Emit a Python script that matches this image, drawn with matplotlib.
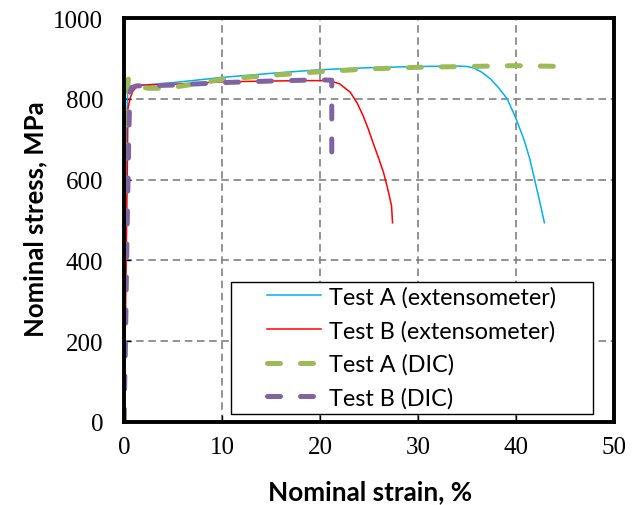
import numpy as np
import matplotlib
matplotlib.use('Agg')
import matplotlib.pyplot as plt
from matplotlib.patches import Rectangle

# ── data (strain %, stress MPa) ──
strain_a_ext = [0, 0.15, 0.3, 0.4, 0.6, 1.0, 2, 5, 10, 15, 20, 25, 30, 34,
                35.0, 35.7, 36.5, 37.4, 38.2, 39.1, 39.9, 40.8, 41.4, 41.9, 42.4, 42.9]
stress_a_ext = [0, 400, 760, 836, 832, 832, 834, 840, 853, 863, 872, 877, 880, 881,
                880, 876, 866, 849, 828, 800, 757, 700, 652, 600, 548, 493]

strain_b_ext = [0, 0.2, 0.35, 0.4, 0.6, 0.9, 1.4, 2, 5, 10, 15, 18, 20, 21.0,
                22.0, 23.1, 23.8, 24.4, 24.9, 25.4, 26.0, 26.5, 27.0, 27.3, 27.4]
stress_b_ext = [0, 350, 650, 775, 800, 819, 832, 834, 836, 842, 844, 845, 845, 845,
                837, 816, 789, 758, 727, 692, 652, 616, 568, 535, 493]

strain_a_dic = [0, 0.1, 0.2, 0.3, 0.45, 0.8, 1.4, 2.5, 4, 6, 10, 15, 20, 25, 30, 35, 40, 45]
stress_a_dic = [0, 250, 550, 800, 849, 843, 830, 826, 826, 832, 848, 858, 867, 874, 878, 880, 882, 880]

strain_b_dic = [0, 0.15, 0.3, 0.5, 0.6, 0.8, 1.3, 2, 5, 10, 15, 20, 21.2, 21.2]
stress_b_dic = [0, 200, 450, 720, 817, 828, 832, 832, 834, 840, 844, 847, 846, 626]

labels = ['Test A (extensometer)', 'Test B (extensometer)', 'Test A (DIC)', 'Test B (DIC)']
x_ticks = [0, 10, 20, 30, 40, 50]
y_ticks = [0, 200, 400, 600, 800, 1000]

BLUE, RED, GREEN, PURPLE = '#00B0F0', '#FF0000', '#9BBB59', '#8064A2'

fig = plt.figure(figsize=(6.4, 5.06), dpi=100)
ax = fig.add_axes([124/640, 83/506, 490/640, 404/506])

ax.plot(strain_a_ext, stress_a_ext, color=BLUE, lw=1.1, label=labels[0], zorder=3)
ax.plot(strain_b_ext, stress_b_ext, color=RED, lw=1.1, label=labels[1], zorder=3)
dash = dict(lw=3.6, dashes=(2.6, 4.0), dash_capstyle='round', zorder=4)
ax.plot(strain_a_dic, stress_a_dic, color=GREEN, label=labels[2], **dash)
ax.plot(strain_b_dic, stress_b_dic, color=PURPLE, label=labels[3], **dash)

ax.set_xlim(0, 50);  ax.set_ylim(0, 1000)
ax.set_xticks(x_ticks);  ax.set_yticks(y_ticks)
ax.grid(True, color='#808080', lw=1.2, ls=(0, (4.5, 2.8)), zorder=1)
ax.set_axisbelow(True)
for s in ax.spines.values():
    s.set_linewidth(2.8);  s.set_color('black');  s.set_zorder(6)
ax.tick_params(direction='in', length=5, width=1, labelsize=18)
ax.tick_params(axis='x', pad=10)
ax.tick_params(axis='y', pad=15)
for t in ax.get_xticklabels() + ax.get_yticklabels():
    t.set_fontfamily('Liberation Serif')

# legend: white box + frameless legend
ax.add_patch(Rectangle((0.2184, 0.0198), 0.7388, 0.3267, transform=ax.transAxes,
                       fc='white', ec='black', lw=1.0, zorder=7))
leg = ax.legend(loc='upper left', bbox_to_anchor=((267-124)/490, (423-287)/404),
                frameon=False, borderpad=0, borderaxespad=0, handlelength=2.3,
                handletextpad=0.35, labelspacing=0.52,
                prop={'family': 'Lato', 'size': 16.8})
leg.set_zorder(8)

fig.text(370/640, 1-492/506, 'Nominal strain, %', ha='center', va='center',
         family='Lato', weight='bold', fontsize=18.8)
fig.text(35/640, 1-219/506, 'Nominal stress, MPa', ha='center', va='center',
         rotation=90, family='Lato', weight='bold', fontsize=18.5)

fig.savefig('out.png', dpi=100)
